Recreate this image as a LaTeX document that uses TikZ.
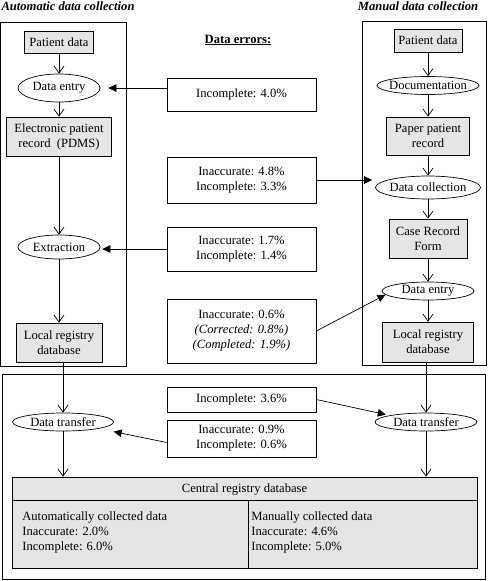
\documentclass[tikz,border=0pt]{standalone}
\usepackage{fontspec}
\setmainfont{Liberation Serif}
\usetikzlibrary{shapes.geometric,arrows.meta}

\begin{document}
\begin{tikzpicture}[x=1pt,y=-1pt,
   every node/.style={font=\fontsize{12.6}{15}\selectfont, align=center},
   box/.style={draw, fill=black!10, inner sep=0pt},
   oval/.style={draw, fill=white, ellipse, inner xsep=-12pt, inner ysep=-4pt},
   err/.style={draw, minimum width=149, inner sep=0pt},
   flow/.style={-{Straight Barb[length=7pt,width=10pt]}},
   hit/.style={-{Triangle[length=8pt,width=7.5pt]}},
   title/.style={font=\fontsize{12.6}{15}\selectfont\bfseries\itshape},
   line width=0.7pt]
\useasboundingbox (0,0) rectangle (489,581);

% automatic collection
\draw (0.5,22) rectangle (126,366);
\node[title] (autoT) at (68,6) {Automatic data collection};
\node[box, minimum width=69, minimum height=22] (patA) at (59,42) {Patient data};
\node[oval, minimum width=82, minimum height=28] (entryA) at (59,88) {Data entry};
\node[box, minimum width=105, minimum height=39] (ehrA) at (59,136.5) {Electronic patient\\record\ \ (PDMS)};
\node[oval, minimum width=82, minimum height=24] (extrA) at (59,247) {Extraction};
\node[box, minimum width=86, minimum height=39] (locA) at (59,342.5) {Local registry\\database};

% manual collection
\draw (362,21) rectangle (486,365);
\node[title] (manT) at (418,6) {Manual data collection};
\node[box, minimum width=68, minimum height=23] (patB) at (428,40.5) {Patient data};
\node[oval, minimum width=102, minimum height=18] (docB) at (428,85.5) {Documentation};
\node[box, minimum width=83, minimum height=38] (paperB) at (428,136) {Paper patient\\record};
\node[oval, minimum width=105, minimum height=23] (collB) at (428,187.5) {Data collection};
\node[box, minimum width=78, minimum height=39] (crfB) at (428,238.5) {Case Record\\Form};
\node[oval, minimum width=92, minimum height=18] (entryB) at (428,291) {Data entry};
\node[box, minimum width=91, minimum height=40] (locB) at (428,342) {Local registry\\database};

% error rates
\node (errT) at (238,40) {\underline{\textbf{Data errors:}}};
\node[err, minimum height=33] (err1) at (241.5,94.5) {Incomplete: 4.0\%};
\node[err, minimum height=46] (err2) at (241.5,180) {Inaccurate: 4.8\%\\Incomplete: 3.3\%};
\node[err, minimum height=44] (err3) at (241.5,249) {Inaccurate: 1.7\%\\Incomplete: 1.4\%};
\node[err, minimum height=64] (err4) at (241.5,331) {Inaccurate: 0.6\%\\\textit{(Corrected: 0.8\%)}\\\textit{(Completed: 1.9\%)}};

% transfer to the central registry
\draw (2,374) rectangle (485,579);
\node[oval, minimum width=101, minimum height=18] (tranA) at (63,422) {Data transfer};
\node[oval, minimum width=102, minimum height=18] (tranB) at (426,422) {Data transfer};
\node[err, minimum height=25] (err5) at (241.5,399.5) {Incomplete: 3.6\%};
\node[err, minimum height=37] (err6) at (241.5,438.5) {Inaccurate: 0.9\%\\Incomplete: 0.6\%};
\node[box, minimum width=465, minimum height=91] (central) at (244.5,522.5) {};
\node (centralT) at (244.5,489) {Central registry database};
\draw (12,500) -- (477,500);
\draw (248,500) -- (248,568);
\node[anchor=north west, align=left, inner sep=0pt] (autoD) at (22,511) {Automatically collected data\\Inaccurate: 2.0\%\\Incomplete: 6.0\%};
\node[anchor=north west, align=left, inner sep=0pt] (manD) at (251,511) {Manually collected data\\Inaccurate: 4.6\%\\Incomplete: 5.0\%};

% flow
\foreach \a/\b in {patA/entryA, entryA/ehrA, ehrA/extrA, extrA/locA,
                   patB/docB, docB/paperB, paperB/collB, collB/crfB, crfB/entryB, entryB/locB}
  \draw[flow] (\a) -- (\b);
\draw[flow] (tranA.north |- locA.south) -- (tranA.north);
\draw[flow] (tranB.north |- locB.south) -- (tranB.north);
\draw[flow] (tranA.south) -- (tranA.south |- central.north);
\draw[flow] (tranB.south) -- (tranB.south |- central.north);

% where the errors come in
\draw[hit, shorten >=8pt] (err1.west |- entryA) -- (entryA.east);
\draw[hit, shorten >=3pt] (err2.east) -- (err2.east -| collB.west);
\draw[hit, shorten >=2pt] (err3.west) -- (err3.west -| extrA.east);
\draw[hit] (err4.east) -- (entryB.185);
\draw[hit, shorten >=4pt] (err5.east) -- (tranB.north west);
\draw[hit, shorten >=15pt] ([yshift=-4pt]err6.west) -- (tranA.south east);

\end{tikzpicture}
\end{document}
